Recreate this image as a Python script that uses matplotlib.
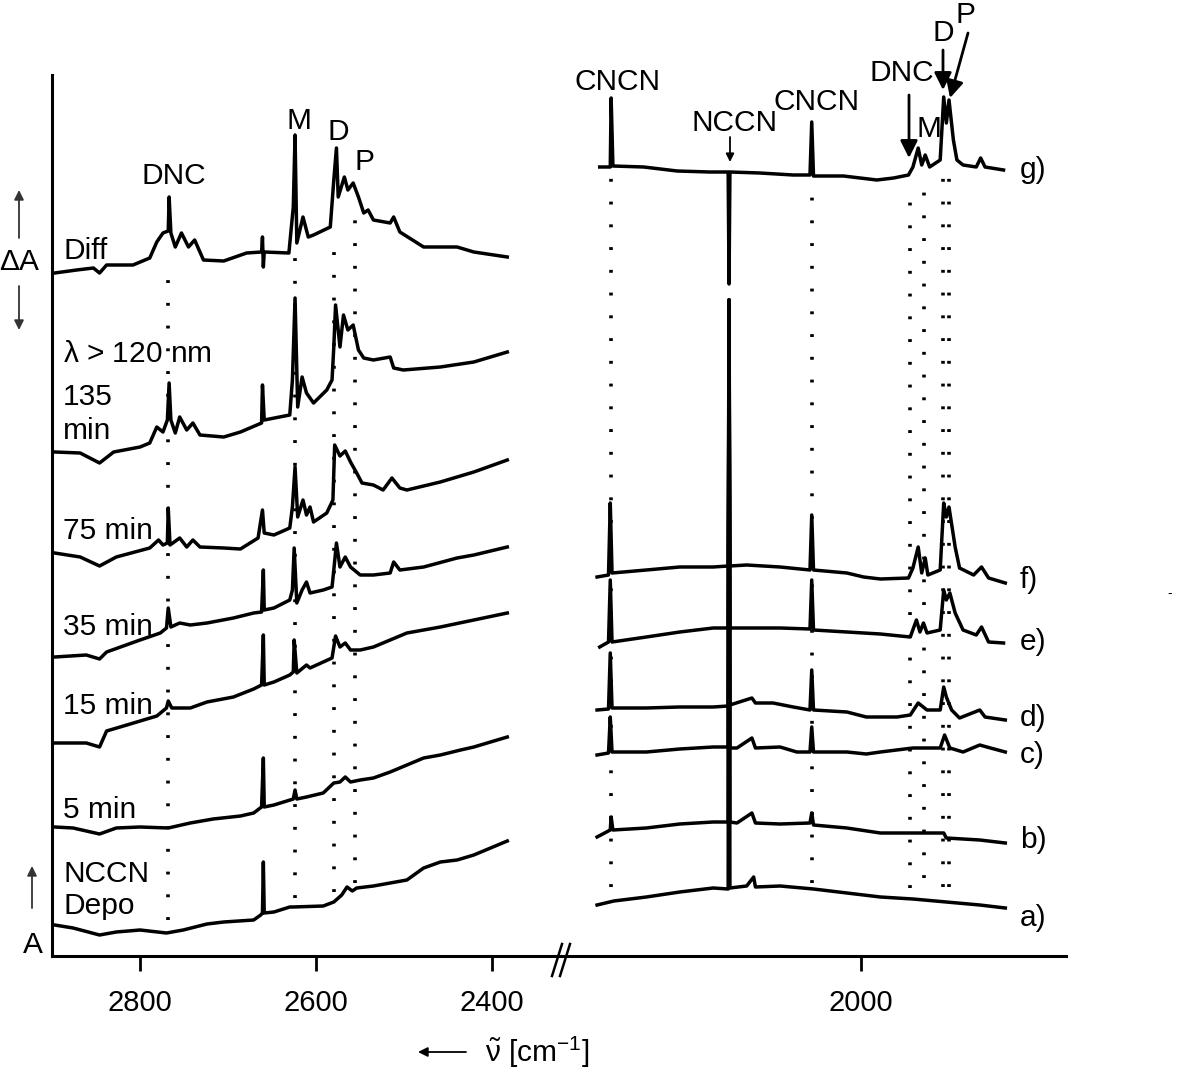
import numpy as np
import matplotlib.pyplot as plt
from matplotlib.lines import Line2D

plt.rcParams['font.family'] = ['Liberation Sans', 'DejaVu Sans']
plt.rcParams['mathtext.fontset'] = 'custom'
plt.rcParams['mathtext.rm'] = 'Liberation Sans'
plt.rcParams['mathtext.it'] = 'Liberation Sans'

W, H = 1200, 1076

# left panel spectra (wavenumber, offset absorbance)
diff = [(2897, 683), (2872, 686), (2853, 688), (2846, 683), (2838, 691), (2808, 691), (2789, 698),
        (2781, 714), (2774, 723), (2768, 725), (2767, 759), (2765, 723), (2760, 709), (2753, 723),
        (2745, 709), (2738, 716), (2728, 696), (2705, 695), (2679, 703), (2662, 704), (2661, 719),
        (2660, 689), (2659, 704), (2631, 703), (2626, 749), (2624, 821), (2622, 713), (2615, 739),
        (2609, 719), (2603, 721), (2584, 729), (2580, 776), (2577, 808), (2575, 759), (2568, 779),
        (2564, 766), (2558, 773), (2552, 759), (2546, 743), (2541, 746), (2535, 736), (2516, 733),
        (2512, 739), (2505, 724), (2478, 709), (2440, 709), (2421, 704), (2383, 699)]
min135 = [(2897, 504), (2868, 503), (2846, 493), (2830, 504), (2800, 509), (2789, 513), (2781, 529),
          (2774, 524), (2769, 536), (2767, 573), (2765, 536), (2760, 523), (2755, 539), (2747, 526),
          (2740, 533), (2732, 521), (2705, 519), (2686, 524), (2662, 533), (2661, 571), (2659, 536),
          (2630, 541), (2627, 576), (2624, 658), (2621, 549), (2616, 579), (2611, 563), (2603, 553),
          (2588, 566), (2582, 576), (2580, 609), (2578, 651), (2573, 609), (2569, 641), (2564, 626),
          (2558, 631), (2552, 606), (2546, 598), (2535, 596), (2516, 599), (2512, 588), (2501, 586),
          (2459, 589), (2421, 594), (2383, 604)]
min75 = [(2897, 403), (2868, 399), (2846, 390), (2827, 399), (2789, 408), (2779, 416), (2774, 411),
         (2769, 413), (2768, 448), (2766, 411), (2755, 418), (2747, 409), (2740, 416), (2732, 409),
         (2705, 408), (2686, 407), (2666, 418), (2661, 446), (2659, 423), (2648, 421), (2630, 428),
         (2627, 449), (2624, 489), (2621, 439), (2615, 456), (2611, 441), (2607, 449), (2603, 434),
         (2588, 443), (2581, 456), (2579, 511), (2573, 500), (2567, 505), (2561, 494), (2554, 483),
         (2548, 473), (2535, 471), (2524, 466), (2514, 478), (2505, 468), (2497, 466), (2459, 474),
         (2421, 484), (2383, 496)]
min35 = [(2897, 299), (2861, 301), (2846, 297), (2838, 304), (2800, 316), (2777, 323), (2770, 328),
         (2768, 348), (2765, 329), (2755, 333), (2743, 331), (2724, 333), (2694, 338), (2671, 343),
         (2662, 344), (2660, 386), (2659, 346), (2648, 348), (2630, 356), (2627, 366), (2625, 408),
         (2622, 353), (2616, 366), (2611, 374), (2607, 363), (2592, 366), (2582, 369), (2580, 386),
         (2577, 413), (2573, 389), (2567, 399), (2561, 389), (2550, 381), (2535, 381), (2516, 383),
         (2512, 394), (2505, 386), (2478, 389), (2440, 398), (2421, 401), (2383, 409)]
min15 = [(2897, 213), (2861, 213), (2846, 209), (2838, 225), (2815, 231), (2781, 240), (2770, 248),
         (2768, 255), (2764, 248), (2743, 248), (2724, 254), (2694, 259), (2671, 267), (2662, 271),
         (2660, 321), (2659, 271), (2648, 274), (2630, 281), (2626, 284), (2625, 316), (2622, 283),
         (2611, 291), (2607, 288), (2592, 294), (2582, 298), (2578, 320), (2573, 309), (2567, 313),
         (2561, 306), (2550, 306), (2535, 309), (2516, 316), (2497, 323), (2459, 329), (2421, 336),
         (2383, 343)]
min5 = [(2897, 129), (2876, 128), (2846, 122), (2827, 128), (2800, 129), (2768, 128), (2743, 133),
        (2717, 137), (2686, 140), (2671, 143), (2662, 149), (2660, 198), (2659, 149), (2648, 151),
        (2626, 157), (2624, 166), (2622, 157), (2611, 159), (2592, 163), (2580, 173), (2573, 174),
        (2567, 179), (2561, 174), (2550, 176), (2535, 178), (2516, 184), (2497, 191), (2478, 198),
        (2459, 201), (2436, 206), (2421, 209), (2402, 214), (2383, 219)]
depo = [(2897, 31), (2876, 28), (2846, 21), (2827, 24), (2800, 26), (2770, 23), (2751, 26),
        (2724, 32), (2705, 34), (2671, 36), (2663, 41), (2661, 43), (2660, 94), (2659, 43),
        (2648, 44), (2630, 49), (2626, 49), (2592, 50), (2580, 54), (2571, 61), (2565, 69),
        (2559, 65), (2554, 68), (2535, 70), (2516, 73), (2497, 76), (2478, 88), (2459, 94),
        (2440, 96), (2421, 101), (2402, 108), (2383, 115)]

# right panel spectra a) .. g)
tr_g = [(2297, 789), (2285, 789), (2284, 858), (2282, 790), (2247, 789), (2209, 785), (2172, 784),
        (2151, 784), (2150, 672), (2149, 784), (2115, 783), (2077, 781), (2058, 781), (2056, 834),
        (2054, 780), (2020, 780), (1982, 776), (1963, 778), (1946, 781), (1941, 789), (1935, 808),
        (1931, 791), (1927, 801), (1922, 789), (1910, 796), (1906, 859), (1903, 833), (1900, 856),
        (1895, 816), (1891, 796), (1884, 791), (1869, 789), (1864, 798), (1859, 789), (1838, 786)]
tr_f = [(2300, 379), (2287, 381), (2285, 453), (2283, 383), (2244, 386), (2206, 389), (2168, 389),
        (2151, 390), (2150, 656), (2149, 390), (2130, 391), (2092, 389), (2058, 386), (2056, 441),
        (2054, 386), (2016, 383), (1997, 379), (1978, 377), (1946, 378), (1941, 388), (1935, 409),
        (1931, 383), (1927, 398), (1924, 381), (1910, 386), (1906, 453), (1903, 439), (1900, 449),
        (1893, 409), (1888, 388), (1872, 381), (1863, 389), (1855, 378), (1836, 373)]
tr_e = [(2297, 309), (2287, 314), (2285, 376), (2283, 314), (2244, 319), (2206, 324), (2168, 328),
        (2151, 328), (2150, 656), (2149, 328), (2130, 328), (2092, 328), (2058, 327), (2056, 376),
        (2054, 326), (2016, 324), (1978, 322), (1944, 319), (1937, 336), (1933, 324), (1929, 333),
        (1925, 323), (1910, 326), (1906, 366), (1903, 356), (1899, 363), (1893, 343), (1884, 326),
        (1869, 321), (1863, 329), (1855, 314), (1838, 313)]
tr_d = [(2300, 246), (2287, 247), (2285, 303), (2283, 248), (2244, 248), (2206, 249), (2168, 249),
        (2151, 250), (2150, 656), (2149, 251), (2124, 258), (2120, 253), (2100, 253), (2077, 249),
        (2058, 246), (2056, 286), (2054, 246), (2016, 244), (1994, 239), (1959, 239), (1944, 241),
        (1935, 253), (1925, 246), (1910, 246), (1906, 269), (1903, 259), (1897, 246), (1888, 238),
        (1865, 246), (1859, 239), (1836, 236)]
tr_c = [(2300, 201), (2287, 203), (2285, 239), (2283, 204), (2244, 204), (2206, 207), (2168, 209),
        (2151, 209), (2150, 656), (2149, 208), (2141, 208), (2124, 218), (2120, 208), (2092, 209),
        (2073, 204), (2058, 204), (2056, 229), (2054, 204), (2016, 204), (1994, 202), (1978, 204),
        (1941, 208), (1910, 208), (1905, 221), (1899, 208), (1884, 204), (1865, 211), (1857, 209),
        (1836, 204)]
tr_b = [(2300, 119), (2285, 126), (2284, 139), (2282, 126), (2244, 128), (2206, 132), (2168, 134),
        (2151, 134), (2150, 656), (2149, 134), (2141, 133), (2124, 143), (2120, 133), (2092, 132),
        (2058, 133), (2056, 143), (2054, 131), (2016, 128), (1978, 123), (1941, 123), (1906, 123),
        (1903, 118), (1865, 116), (1836, 113)]
tr_a = [(2300, 51), (2281, 55), (2244, 59), (2206, 64), (2168, 68), (2151, 67), (2150, 656),
        (2149, 68), (2130, 70), (2122, 79), (2120, 69), (2092, 70), (2054, 67), (2016, 63),
        (1978, 59), (1941, 57), (1903, 54), (1865, 51), (1836, 48)]

left_traces = [diff, min135, min75, min35, min15, min5, depo]
right_traces = [tr_g, tr_f, tr_e, tr_d, tr_c, tr_b, tr_a]

# dotted band markers: position, top, bottom
left_marks = [2768, 2624, 2580, 2556]
left_marks_top = [676, 699, 723, 749]
left_marks_bot = [36, 58, 64, 73]
right_marks = [2284, 2056, 1944, 1928, 1907, 1900]
right_marks_top = [783, 759, 763, 771, 781, 783]
right_marks_bot = [69, 73, 68, 78, 69, 69]

fig = plt.figure(figsize=(W / 100, H / 100), dpi=100)
bottom = (H - 956) / H
height = 881 / H
axL = fig.add_axes([52 / W, bottom, 509 / W, height])
axR = fig.add_axes([561 / W, bottom, 505 / W, height])
axL.set_xlim(2900, 2322)
axR.set_xlim(2341, 1767)

for ax, traces, mx, mt, mb in [(axL, left_traces, left_marks, left_marks_top, left_marks_bot),
                               (axR, right_traces, right_marks, right_marks_top, right_marks_bot)]:
    for tr in traces:
        x, y = np.array(tr).T
        ax.plot(x, y, color='black', lw=2.5)
    for x, t, b in zip(mx, mt, mb):
        ax.plot([x, x], [b, t], color='black', lw=2.6, dashes=(0.8, 5.5))
    ax.set_ylim(0, 881)
    ax.set_yticks([])
    for s in ['top', 'right']:
        ax.spines[s].set_visible(False)
    ax.spines['bottom'].set_linewidth(2.2)
    ax.tick_params(axis='x', direction='out', length=11, width=2, labelsize=21, pad=13)
    ax.patch.set_alpha(0)

axL.spines['left'].set_linewidth(2.2)
axR.spines['left'].set_visible(False)
axL.set_xticks([2800, 2600, 2400])
axR.set_xticks([2000])


def put(x, y, s, **kw):
    kw.setdefault('fontsize', 21.5)
    kw.setdefault('va', 'center')
    fig.text(x / W, 1 - y / H, s, **kw)


def arrow(x0, y0, x1, y1, lw=1.2, ms=14, color='black'):
    fig.add_artist(plt.matplotlib.patches.FancyArrowPatch(
        (x0, H - y0), (x1, H - y1), transform=None, arrowstyle='-|>',
        mutation_scale=ms, lw=lw, color=color, shrinkA=0, shrinkB=0))


# left trace labels
for s, y in [('Diff', 251), (r'$\lambda$ > 120 nm', 354), ('135', 397), ('min', 431),
             ('75 min', 531), ('35 min', 627), ('15 min', 706), ('5 min', 810),
             ('NCCN', 874), ('Depo', 906)]:
    put(63, y, s, ha='left')

# left peak labels
for s, x, y in [('DNC', 174, 176), ('M', 299, 121), ('D', 338, 132), ('P', 365, 162)]:
    put(x, y, s, ha='center')

# right peak labels
for s, x, y in [('CNCN', 617, 82), ('NCCN', 734, 123), ('CNCN', 816, 102), ('DNC', 902, 73),
                ('M', 929, 129), ('D', 943, 33), ('P', 965, 15)]:
    put(x, y, s, ha='center')

# right trace letters
for s, y in [('g)', 170), ('f)', 580), ('e)', 642), ('d)', 718), ('c)', 755), ('b)', 840), ('a)', 918)]:
    put(1020, y, s, ha='left')

arrow(730, 137, 730, 162, lw=1.3, ms=12)
arrow(909, 95, 909, 158, lw=2, ms=26)
arrow(943, 50, 943, 90, lw=2, ms=26)
arrow(968, 33, 950, 98, lw=2, ms=26)

# y-axis hints
put(20, 262, r'$\Delta$A', ha='center')
arrow(19, 238, 19, 190, lw=1.3, ms=14, color='#333333')
arrow(19, 286, 19, 330, lw=1.3, ms=14, color='#333333')
put(33, 945, 'A', ha='center')
arrow(32, 908, 32, 866, lw=1.3, ms=14, color='#333333')

# break marks on the axis
for dx in (0, 8):
    fig.add_artist(Line2D([552 + dx, 562 + dx], [H - 976, H - 944], transform=None,
                          color='black', lw=1.8))

put(1170, 593, '-', ha='center', fontsize=10)

# x label
arrow(466, 1052, 418, 1052, lw=1.3, ms=14)
put(485, 1052, r'$\mathrm{\tilde{\nu}}$ [cm$^{\mathrm{-1}}$]', ha='left')

fig.savefig('out.png', dpi=100)
